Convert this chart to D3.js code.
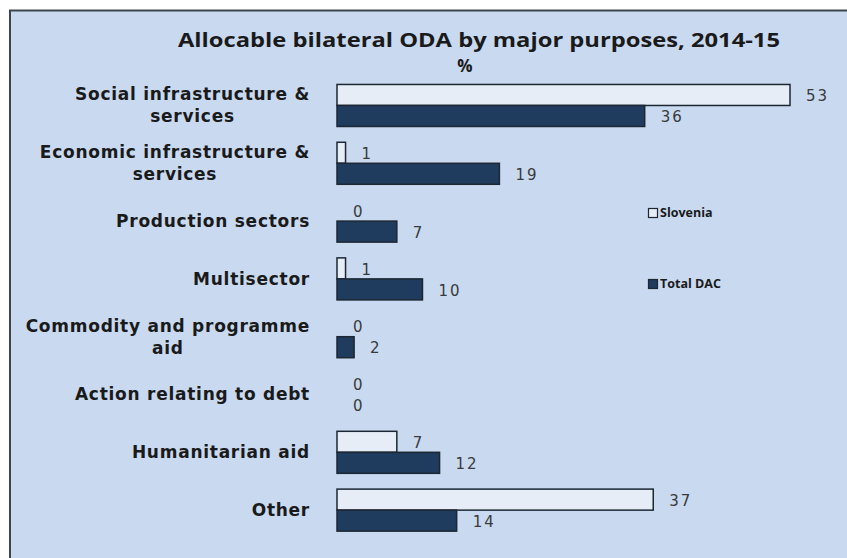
<!DOCTYPE html>
<html>
<head>
<meta charset="utf-8">
<script src="https://cdn.jsdelivr.net/npm/d3@7"></script>
<style>
  html, body { margin: 0; padding: 0; background: #ffffff; }
  svg { display: block; }
</style>
</head>
<body>
<svg id="chart" width="847" height="558"></svg>
<script>
// Allocable bilateral ODA by major purposes, 2014-15 (% of total)
const categories = [
  ["Social infrastructure &", "services"],
  ["Economic infrastructure &", "services"],
  ["Production sectors"],
  ["Multisector"],
  ["Commodity and programme", "aid"],
  ["Action relating to debt"],
  ["Humanitarian aid"],
  ["Other"]
];
const seriesNames = ["Slovenia", "Total DAC"];
const slovenia = [53, 1, 0, 1, 0, 0, 7, 37];
const totalDAC = [36, 19, 7, 10, 2, 0, 12, 14];

const colors = { "Slovenia": "#e6edf6", "Total DAC": "#1f3b5e" };
const strokeColor = "#1c2733";

const svg = d3.select("#chart");
const W = 847, H = 558;

// frame
svg.append("rect").attr("x", 0).attr("y", 0).attr("width", W).attr("height", H).attr("fill", "#ffffff");
svg.append("rect")
  .attr("x", 10).attr("y", 10.5).attr("width", W + 10).attr("height", H + 10)
  .attr("fill", "#c8d9f0").attr("stroke", "#3d4650").attr("stroke-width", 2);

// title
svg.append("text")
  .attr("x", 479).attr("y", 47)
  .attr("text-anchor", "middle")
  .attr("font-family", "'Open Sans', sans-serif")
  .attr("font-weight", "bold").attr("font-size", 19.5)
  .attr("fill", "#1a1a1a")
  .attr("textLength", 602).attr("lengthAdjust", "spacingAndGlyphs")
  .text("Allocable bilateral ODA by major purposes, 2014-15");
svg.append("text")
  .attr("x", 465).attr("y", 72)
  .attr("text-anchor", "middle")
  .attr("font-family", "'Open Sans', sans-serif")
  .attr("font-weight", "bold").attr("font-size", 17)
  .attr("fill", "#1a1a1a")
  .text("%");

// scales
const idx = d3.range(categories.length);
const y = d3.scaleBand().domain(idx).range([76.6, 539]).paddingInner(0.273).paddingOuter(0.136);
const x = d3.scaleLinear().domain([0, 53]).range([337, 790]);
const sub = d3.scaleBand().domain(seriesNames).range([0, y.bandwidth()]);

const rows = idx.map(i => ({ i, values: [
  { name: "Slovenia", v: slovenia[i] },
  { name: "Total DAC", v: totalDAC[i] }
]}));

// category labels: first line right-aligned, lines centred on each other
const labelRight = 310;
const labelFont = "'DejaVu Sans', sans-serif";
const labelSize = 17;
// letter spacing chosen so the first label spans its box
const probe = svg.append("text")
  .attr("font-family", labelFont).attr("font-weight", "bold").attr("font-size", labelSize)
  .text(categories[0][0]);
const probeW = probe.node().getComputedTextLength();
probe.remove();
const spacing = Math.max(Math.min((235 - probeW) / categories[0][0].length, 1.2), -0.6);

rows.forEach(r => {
  const lines = categories[r.i];
  const cy = y(r.i) + y.bandwidth() / 2;
  const g = svg.append("g");
  const mk = s => g.append("text")
    .attr("font-family", labelFont).attr("font-weight", "bold").attr("font-size", labelSize)
    .attr("letter-spacing", spacing)
    .attr("fill", "#1a1a1a")
    .text(s);
  const t0 = mk(lines[0]);
  const w = t0.node().getComputedTextLength();
  const cx = labelRight - w / 2;
  const lh = 22;
  const y0 = cy - (lines.length - 1) * lh / 2;
  t0.attr("x", cx).attr("y", y0).attr("dy", "0.35em").attr("text-anchor", "middle");
  for (let k = 1; k < lines.length; k++) {
    mk(lines[k]).attr("x", cx).attr("y", y0 + k * lh).attr("dy", "0.35em").attr("text-anchor", "middle");
  }
});

// bars
const groups = svg.selectAll("g.row").data(rows).join("g")
  .attr("class", "row")
  .attr("transform", d => `translate(0,${y(d.i)})`);

groups.selectAll("rect").data(d => d.values).join("rect")
  .attr("x", x(0))
  .attr("y", d => sub(d.name))
  .attr("width", d => Math.max(x(d.v) - x(0), 0))
  .attr("height", sub.bandwidth())
  .attr("fill", d => colors[d.name])
  .attr("stroke", strokeColor).attr("stroke-width", 1.5);

// value labels
groups.selectAll("text.val").data(d => d.values).join("text")
  .attr("class", "val")
  .attr("x", d => x(d.v) + 16)
  .attr("y", d => sub(d.name) + sub.bandwidth() / 2 + 1)
  .attr("dy", "0.35em")
  .attr("font-family", "'DejaVu Sans', sans-serif").attr("font-size", 15)
  .attr("letter-spacing", 2)
  .attr("fill", "#3a3a3a")
  .text(d => d.v);

// legend
const legend = svg.append("g");
const legendY = { "Slovenia": 213, "Total DAC": 284 };
seriesNames.forEach(n => {
  legend.append("rect")
    .attr("x", 648.5).attr("y", legendY[n] - 4.5).attr("width", 9).attr("height", 9)
    .attr("fill", colors[n]).attr("stroke", strokeColor).attr("stroke-width", 1.2);
  legend.append("text")
    .attr("x", 660).attr("y", legendY[n]).attr("dy", "0.35em")
    .attr("font-family", "'Open Sans', sans-serif").attr("font-weight", "bold").attr("font-size", 12.5)
    .attr("fill", "#1a1a1a")
    .text(n);
});
</script>
</body>
</html>
